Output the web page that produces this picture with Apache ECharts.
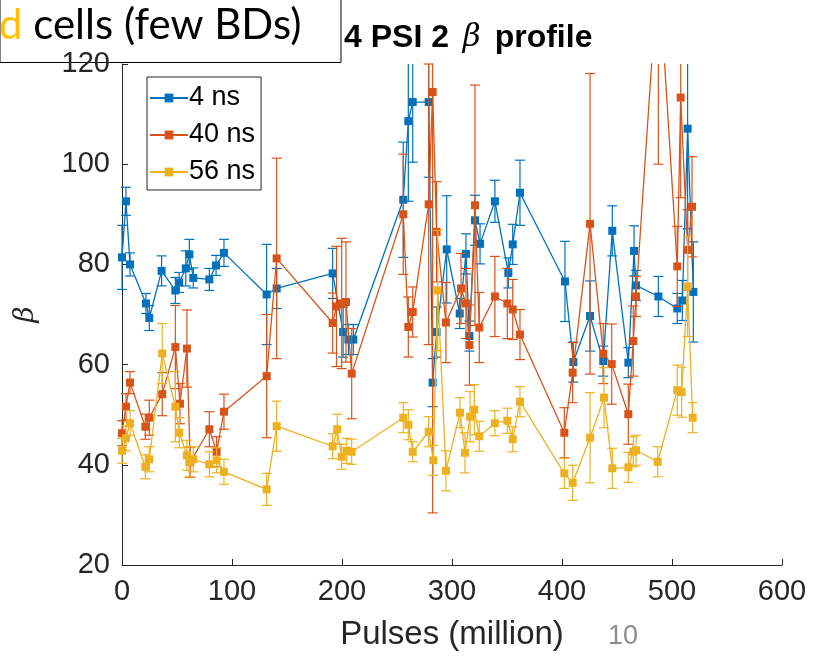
<!DOCTYPE html>
<html>
<head>
<meta charset="utf-8">
<script src="https://cdn.jsdelivr.net/npm/echarts@6/dist/echarts.min.js"></script>
<style>
  html, body { margin: 0; padding: 0; background: #fff; }
  #chart { width: 815px; height: 658px; }
</style>
</head>
<body>
<div id="chart"></div>
<script>
// 4 ns
const ns4Pulses = [0, 3.6, 7.3, 21.8, 24.8, 36, 48.5, 52, 58, 61.2, 64.8, 79.4, 85.5, 92.7, 131.5, 140.6, 191.5, 201, 205.8, 210.3, 255.7, 260.3, 264.3, 278.8, 282.4, 286, 295.2, 307, 312.7, 315.8, 320.9, 325.5, 339, 351.2, 355.2, 361.8, 402.7, 410.3, 425.5, 437.5, 445.7, 460.3, 465.5, 467.3, 487.6, 504.8, 509.4, 514.2, 519.4];
const ns4Beta = [81.4, 92.6, 80.0, 72.2, 69.3, 78.7, 74.8, 76.4, 79.2, 82.0, 77.3, 77.0, 79.8, 82.3, 74.0, 75.2, 78.2, 66.5, 65.0, 65.0, 92.9, 108.6, 112.4, 112.4, 56.4, 66.5, 83.0, 70.2, 82.1, 65.7, 88.8, 84.1, 92.6, 78.3, 84.0, 94.3, 76.6, 60.5, 69.7, 60.7, 86.7, 60.4, 82.7, 75.8, 73.6, 71.2, 72.8, 107.1, 74.5];
const ns4Err = [6.4, 2.8, 2.3, 2, 2.5, 3, 2.6, 2, 3.5, 3, 2, 2.2, 2, 2.7, 10, 4, 5, 5, 3, 3, 11.5, 16, 12, 15, 4.8, 5, 10.7, 3, 4, 3, 5, 4, 4.2, 3, 4, 6.5, 8, 4, 7, 3, 5, 3, 5, 3, 4, 3, 4, 20, 10];

// 40 ns
const ns40Pulses = [0, 3.6, 7.3, 21.2, 24.8, 36.6, 48.5, 52.7, 59, 62, 79.4, 86, 92.7, 131.5, 140.6, 191.5, 195, 199.7, 203.6, 208.8, 255.7, 260.3, 264.3, 278.8, 282.4, 286, 294.5, 308.2, 312.7, 315.8, 320.9, 324.8, 339, 350.3, 355.2, 361.8, 402.1, 409.7, 425.5, 437.5, 445.2, 460.3, 464.8, 467.3, 487.6, 504.8, 507.9, 514.2, 518.2];
const ns40Beta = [46.3, 51.6, 56.4, 47.6, 49.4, 54.1, 63.5, 52.2, 63.2, 40.5, 47.1, 42.6, 50.6, 57.7, 81.2, 68.3, 71.6, 72.2, 72.5, 58.2, 90.0, 67.5, 70.5, 92.0, 114.4, 86.5, 68.4, 75.2, 72.2, 63.9, 91.8, 67.4, 73.6, 72.2, 71.0, 66.0, 46.4, 58.4, 88.1, 62.2, 60.1, 50.1, 64.7, 73.6, 140, 79.6, 113.3, 82.9, 91.5];
const ns40Err = [2.5, 2.6, 2.2, 2.5, 3.5, 4.3, 8.3, 4, 7.7, 3, 3.5, 3, 3.5, 12.3, 20, 6, 12, 13, 12, 9, 12, 6, 5, 28, 84, 10, 8, 7, 7, 8, 24, 7, 8, 7, 6, 5, 5, 6, 30, 6, 8, 6, 7, 4, 40, 8, 20, 8, 10];

// 56 ns
const ns56Pulses = [0, 3.6, 7.3, 21.2, 24.8, 36.6, 48.5, 52, 59, 61.2, 64.8, 79.4, 86, 92.7, 131.5, 140.6, 191.5, 195.7, 199.7, 204.3, 208.8, 255.7, 260.3, 264.3, 278.8, 283, 287, 294.5, 307.3, 311.8, 316.4, 320.3, 324.8, 339, 350.3, 355.2, 361.8, 402.1, 409.7, 425.5, 438.2, 445.7, 460.3, 464.8, 467.3, 487, 504.8, 508.8, 514.2, 518.8];
const ns56Beta = [42.8, 45.3, 48.3, 39.6, 41.1, 62.2, 51.6, 46.4, 41.9, 40.6, 41.1, 40.1, 40.9, 38.6, 35.1, 47.7, 43.7, 47.1, 41.6, 42.8, 42.6, 49.4, 48.0, 42.6, 46.6, 40.9, 74.8, 38.8, 50.4, 42.4, 49.6, 51.0, 45.7, 48.3, 48.8, 45.1, 52.6, 38.3, 36.4, 45.4, 53.4, 39.3, 39.5, 42.6, 42.9, 40.6, 54.9, 54.5, 75.6, 49.4];
const ns56Err = [2.5, 2.5, 2.5, 2.4, 2.5, 6, 7, 3, 3, 3, 2.5, 2.5, 2.5, 2.5, 3.2, 5, 2.5, 3, 2.5, 2.5, 2.5, 3, 3, 2, 3, 3, 12, 4, 3, 4, 5, 5, 3, 2.5, 2.5, 2.5, 3, 3, 3.5, 9, 6, 4, 3, 3, 3, 3, 5, 5, 10, 3];

const xTicks = [0, 100, 200, 300, 400, 500, 600];
const yTicks = [20, 40, 60, 80, 100, 120];

const seriesDefs = [
  { name: '4 ns', color: '#0072BD', x: ns4Pulses, y: ns4Beta, e: ns4Err },
  { name: '40 ns', color: '#D95319', x: ns40Pulses, y: ns40Beta, e: ns40Err },
  { name: '56 ns', color: '#EDB120', x: ns56Pulses, y: ns56Beta, e: ns56Err },
];

const chart = echarts.init(document.getElementById('chart'), null, { renderer: 'canvas' });

const font = '"Liberation Sans", Arial, sans-serif';
const axisColor = '#262626';

// error bars drawn through the axis scales, clipped to the plot box
function errorBarRenderer(color) {
  return (params, api) => {
    const x = api.value(0);
    const lo = api.value(1);
    const hi = api.value(2);
    const cs = params.coordSys;
    const pTop = api.coord([x, hi]);
    const pBot = api.coord([x, lo]);
    const yMin = cs.y;
    const yMax = cs.y + cs.height;
    const yTop = Math.max(pTop[1], yMin);
    const yBot = Math.min(pBot[1], yMax);
    const px = pTop[0];
    const cap = 5;
    const style = { stroke: color, lineWidth: 1.2 };
    const children = [];
    if (yBot > yTop) {
      children.push({ type: 'line', shape: { x1: px, y1: yTop, x2: px, y2: yBot }, style });
    }
    if (pTop[1] >= yMin && pTop[1] <= yMax) {
      children.push({ type: 'line', shape: { x1: px - cap, y1: pTop[1], x2: px + cap, y2: pTop[1] }, style });
    }
    if (pBot[1] >= yMin && pBot[1] <= yMax) {
      children.push({ type: 'line', shape: { x1: px - cap, y1: pBot[1], x2: px + cap, y2: pBot[1] }, style });
    }
    return { type: 'group', children };
  };
}

const series = [];
seriesDefs.forEach((s, i) => {
  series.push({
    name: s.name + ' err',
    type: 'custom',
    renderItem: errorBarRenderer(s.color),
    data: s.x.map((x, k) => [x, s.y[k] - s.e[k], s.y[k] + s.e[k]]),
    encode: { x: 0, y: [1, 2] },
    z: 2 + i * 2,
    silent: true,
  });
  series.push({
    name: s.name,
    type: 'line',
    data: s.x.map((x, k) => [x, s.y[k]]),
    symbol: 'rect',
    symbolSize: 8,
    color: s.color,
    lineStyle: { width: 1.3, color: s.color },
    itemStyle: { color: s.color },
    clip: true,
    z: 3 + i * 2,
    animation: false,
  });
});

const option = {
  animation: false,
  backgroundColor: '#fff',
  grid: { left: 122, right: 33, top: 64, bottom: 93, containLabel: false },
  legend: {
    data: seriesDefs.map(s => s.name),
    orient: 'vertical',
    left: 147,
    top: 77,
    itemWidth: 38,
    itemHeight: 11,
    itemGap: 9,
    padding: [7, 6, 4, 2],
    borderColor: axisColor,
    borderWidth: 1,
    backgroundColor: '#fff',
    textStyle: { fontFamily: font, fontSize: 27, lineHeight: 28, color: '#000', padding: [0, 0, 0, -4] },
  },
  xAxis: {
    type: 'value',
    min: xTicks[0],
    max: xTicks[xTicks.length - 1],
    interval: 100,
    name: 'Pulses (million)',
    nameLocation: 'middle',
    nameGap: 53,
    nameTextStyle: { fontFamily: font, fontSize: 33, color: axisColor },
    axisLine: { show: true, onZero: false, lineStyle: { color: axisColor, width: 1 } },
    axisTick: { show: true, inside: true, length: 6, lineStyle: { color: axisColor } },
    axisLabel: { fontFamily: font, fontSize: 29, color: axisColor, margin: 12 },
    splitLine: { show: false },
  },
  yAxis: {
    type: 'value',
    min: yTicks[0],
    max: yTicks[yTicks.length - 1],
    interval: 20,
    name: 'β',
    nameLocation: 'middle',
    nameGap: 82,
    nameRotate: 90,
    nameTextStyle: { fontFamily: '"DejaVu Serif", serif', fontSize: 28, color: axisColor, fontStyle: 'italic' },
    axisLine: { show: true, onZero: false, lineStyle: { color: axisColor, width: 1 } },
    axisTick: { show: true, inside: true, length: 6, lineStyle: { color: axisColor } },
    axisLabel: { fontFamily: font, fontSize: 29, color: axisColor, margin: 12 },
    splitLine: { show: false },
  },
  graphic: [
    {
      type: 'text',
      left: 344,
      top: 22,
      z: 50,
      style: {
        text: '{b|4 PSI 2 }{i|β}{b| profile}',
        rich: {
          b: { fontFamily: font, fontSize: 32, fontWeight: 'bold', fill: '#000' },
          i: { fontFamily: '"DejaVu Serif", serif', fontSize: 31, fontStyle: 'italic', fill: '#000', padding: [0, 5, 0, 5] },
        },
      },
    },
    {
      type: 'group',
      left: -1,
      top: -1,
      z: 100,
      children: [
        {
          type: 'rect',
          shape: { x: 0, y: 0, width: 341, height: 63 },
          style: { fill: '#fff', stroke: '#000', lineWidth: 1 },
        },
        {
          type: 'text',
          x: -1,
          y: 5,
          style: {
            text: '{o|d} cells (few BDs)',
            rich: {
              o: { fontFamily: 'Lato, "Open Sans", sans-serif', fontSize: 42, fill: '#FFC000' },
            },
            fontFamily: 'Lato, "Open Sans", sans-serif',
            fontSize: 42,
            fill: '#000',
          },
        },
      ],
    },
    {
      type: 'text',
      left: 608,
      top: 623,
      style: { text: '10', fontFamily: font, fontSize: 27, fill: '#8c8c8c' },
    },
  ],
  series,
};

chart.setOption(option);
</script>
</body>
</html>
